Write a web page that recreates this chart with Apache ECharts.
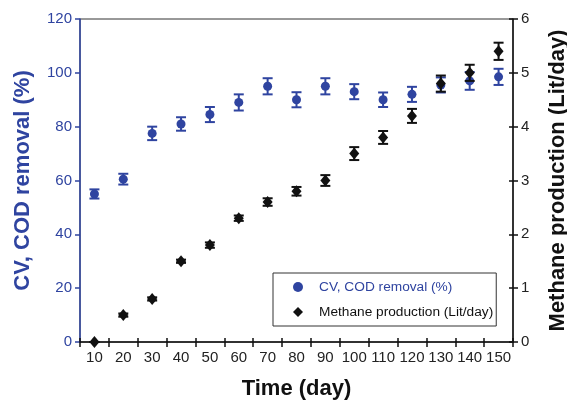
<!DOCTYPE html>
<html>
<head>
<meta charset="utf-8">
<script src="https://cdn.jsdelivr.net/npm/echarts@6/dist/echarts.min.js"></script>
<style>html,body{margin:0;padding:0;background:#fff;}#c{width:567px;height:400px;}</style>
</head>
<body>
<div id="c"></div>
<script>
var days = ['10','20','30','40','50','60','70','80','90','100','110','120','130','140','150'];
var removal = [55, 60.5, 77.5, 81, 84.5, 89, 95, 90, 95, 93, 90, 92, 95.5, 97, 98.5];
var removalErr = [1.7, 2, 2.5, 2.5, 2.8, 3, 3, 2.8, 3, 2.8, 2.7, 2.8, 2.8, 3.3, 3];
var methane = [0, 0.5, 0.8, 1.5, 1.8, 2.3, 2.6, 2.8, 3.0, 3.5, 3.8, 4.2, 4.8, 5.0, 5.4];
var methaneErr = [0, 0.03, 0.03, 0.03, 0.05, 0.05, 0.07, 0.08, 0.1, 0.12, 0.12, 0.13, 0.15, 0.15, 0.16];
var leftTicks = [0, 20, 40, 60, 80, 100, 120];
var rightTicks = [0, 1, 2, 3, 4, 5, 6];

var BLUE = '#2f44a0', BLACK = '#111111';
var FONT = 'Liberation Sans, Arial, Helvetica, sans-serif';

function errData(vals, errs) {
  return vals.map(function (v, i) { return [i, v - errs[i], v + errs[i]]; });
}
function errRender(color) {
  return function (params, api) {
    var x = api.value(0);
    var lo = api.coord([x, api.value(1)]);
    var hi = api.coord([x, api.value(2)]);
    var hw = 5;
    var st = { stroke: color, lineWidth: 2 };
    return {
      type: 'group',
      children: [
        { type: 'line', shape: { x1: lo[0], y1: lo[1], x2: hi[0], y2: hi[1] }, style: st },
        { type: 'line', shape: { x1: lo[0] - hw, y1: lo[1], x2: lo[0] + hw, y2: lo[1] }, style: st },
        { type: 'line', shape: { x1: hi[0] - hw, y1: hi[1], x2: hi[0] + hw, y2: hi[1] }, style: st }
      ]
    };
  };
}

var chart = echarts.init(document.getElementById('c'));
chart.setOption({
  animation: false,
  textStyle: { fontFamily: FONT },
  grid: { left: 80, right: 54, top: 19, bottom: 58, containLabel: false, outerBoundsMode: 'none', show: true, borderColor: '#333', borderWidth: 1, backgroundColor: 'transparent' },
  legend: {
    orient: 'vertical', left: 273, top: 273,
    data: [
      { name: 'CV, COD removal (%)', icon: 'circle', textStyle: { color: BLUE } },
      { name: 'Methane production (Lit/day)', icon: 'diamond', textStyle: { color: BLACK } }
    ],
    itemWidth: 10, itemHeight: 10, itemGap: 11,
    padding: [7, 3, 7, 20],
    borderColor: '#333', borderWidth: 1, borderRadius: 0,
    backgroundColor: '#fff',
    textStyle: { fontSize: 13.7, fontFamily: FONT, padding: [0, 0, 0, 11] },
    selectedMode: false
  },
  xAxis: [{
    type: 'category', data: days, boundaryGap: true,
    name: 'Time (day)', nameLocation: 'middle', nameGap: 36,
    nameTextStyle: { fontSize: 22, fontWeight: 'bold', color: BLACK, fontFamily: FONT },
    axisLine: { lineStyle: { color: BLACK, width: 1.5 } },
    axisTick: { show: true, length: 5, lineStyle: { color: BLACK, width: 1.5 } },
    axisLabel: { interval: 0, fontSize: 15, color: '#222', margin: 8 },
    splitLine: { show: false }
  }, {
    type: 'category', data: days, boundaryGap: true, position: 'bottom',
    axisLine: { show: false },
    axisTick: { show: true, inside: true, length: 4, lineStyle: { color: BLACK, width: 1.5 } },
    axisLabel: { show: false }, splitLine: { show: false }
  }],
  yAxis: [{
    type: 'value', min: 0, max: 120, interval: 20, position: 'left',
    name: 'CV, COD removal (%)', nameLocation: 'middle', nameGap: 46, nameRotate: 90,
    nameTextStyle: { fontSize: 22, fontWeight: 'bold', color: BLUE, fontFamily: FONT },
    axisLine: { show: true, lineStyle: { color: BLUE, width: 1.5 } },
    axisTick: { show: true, length: 5, lineStyle: { color: BLUE, width: 1.5 } },
    axisLabel: { fontSize: 15, color: BLUE, margin: 8 },
    splitLine: { show: false }
  }, {
    type: 'value', min: 0, max: 6, interval: 1, position: 'right',
    name: 'Methane production (Lit/day)', nameLocation: 'middle', nameGap: 34, nameRotate: 90,
    nameTextStyle: { fontSize: 22, fontWeight: 'bold', color: BLACK, fontFamily: FONT },
    axisLine: { show: true, lineStyle: { color: BLACK, width: 1.5 } },
    axisTick: { show: true, length: 5, lineStyle: { color: BLACK, width: 1.5 } },
    axisLabel: { fontSize: 15, color: '#222', margin: 8 },
    splitLine: { show: false }
  }, {
    type: 'value', min: 0, max: 6, interval: 1, position: 'right',
    axisLine: { show: false },
    axisTick: { show: true, inside: true, length: 4, lineStyle: { color: BLACK, width: 1.5 } },
    axisLabel: { show: false }, splitLine: { show: false }
  }],
  series: [{
    type: 'custom', name: 'removalErr', yAxisIndex: 0, renderItem: errRender(BLUE),
    data: errData(removal, removalErr), encode: { x: 0, y: [1, 2] }, z: 2, silent: true
  }, {
    type: 'scatter', name: 'CV, COD removal (%)', yAxisIndex: 0, data: removal,
    symbol: 'circle', symbolSize: 9, itemStyle: { color: BLUE, opacity: 1 }, z: 3
  }, {
    type: 'custom', name: 'methaneErr', yAxisIndex: 1, renderItem: errRender(BLACK),
    data: errData(methane, methaneErr), encode: { x: 0, y: [1, 2] }, z: 4, silent: true
  }, {
    type: 'scatter', name: 'Methane production (Lit/day)', yAxisIndex: 1, data: methane,
    symbol: 'diamond', symbolSize: [10, 12], itemStyle: { color: BLACK, opacity: 1 }, z: 5
  }]
});
</script>
</body>
</html>
